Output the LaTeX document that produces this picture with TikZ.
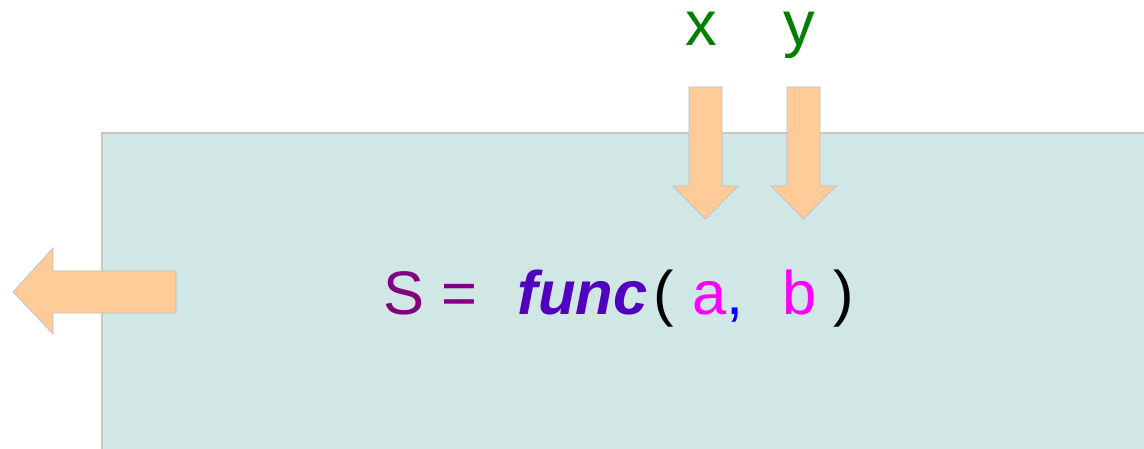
\documentclass[tikz,border=0pt]{standalone}
\usepackage{fontspec}
\setmainfont{Liberation Sans}
\usepackage{xcolor}
\definecolor{boxteal}{RGB}{208,231,229}
\definecolor{boxedge}{RGB}{200,200,200}
\definecolor{arrowfill}{RGB}{255,203,153}
\definecolor{arrowedge}{RGB}{190,190,190}
\definecolor{varpurple}{RGB}{128,0,128}
\definecolor{funcviolet}{RGB}{80,0,190}
\definecolor{argmagenta}{RGB}{255,0,255}
\definecolor{inputgreen}{RGB}{0,128,0}

\begin{document}
\begin{tikzpicture}[x=0.02cm,y=-0.02cm,
    fatarrow/.style={fill=arrowfill, draw=arrowedge, line width=0.4pt},
    inputlabel/.style={text=inputgreen, font=\fontsize{36}{40}\selectfont, inner sep=0pt, text height=0.55em, anchor=base}]
        \useasboundingbox (0,0) rectangle (1144,449);
        % Boite
        \draw[fill=boxteal, draw=boxedge, line width=0.6pt] (102,133) rectangle (1150,460);
        
        % Fleche de sortie
        \draw[fatarrow] (13,292) -- (53,248) -- (53,271) -- (176,271) -- (176,313) -- (53,313) -- (53,334) -- cycle;
        
        % Fleches d'entree
        \foreach \xl/\xr in {689/722, 787/820}{
            \draw[fatarrow] (\xl,87) -- (\xr,87) -- (\xr,186) -- ({\xr+16},186)
                -- ({(\xl+\xr)/2},219) -- ({\xl-16},186) -- (\xl,186) -- cycle;
        }
        
        % Entrees
        \node[inputlabel] (x) at (701,46) {x};
        \node[inputlabel] (y) at (799,46) {y};
        
        % Expression
        \node[anchor=base west, inner sep=0pt, font=\fontsize{35}{40}\selectfont] (expr) at (383,315)
            {\textcolor{varpurple}{S =}\hspace{0.66em}\textcolor{funcviolet}{\bfseries\itshape func}\hspace{0.09em}(\hspace{0.3em}\textcolor{argmagenta}{a}\textcolor{blue}{,}\hspace{0.64em}\textcolor{argmagenta}{b}\hspace{0.26em})};
    \end{tikzpicture}
\end{document}
